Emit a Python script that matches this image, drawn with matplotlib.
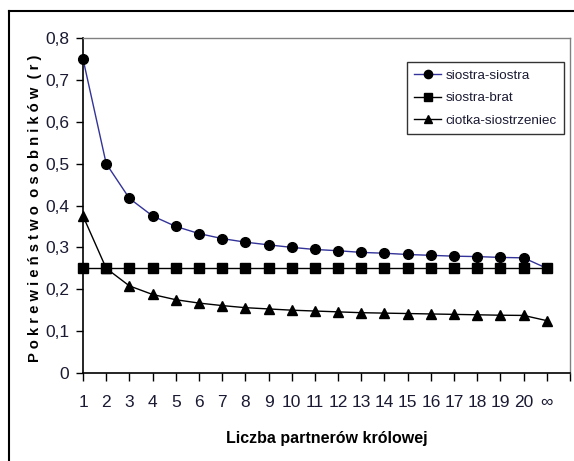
import matplotlib
matplotlib.use("Agg")
import matplotlib.pyplot as plt
from matplotlib import font_manager
from matplotlib.lines import Line2D

names = {f.name for f in font_manager.fontManager.ttflist}
narrow = 'Liberation Sans Narrow' if 'Liberation Sans Narrow' in names else 'Liberation Sans'
is_narrow = narrow == 'Liberation Sans Narrow'

categories = ['1', '2', '3', '4', '5', '6', '7', '8', '9', '10', '11', '12', '13',
              '14', '15', '16', '17', '18', '19', '20', '∞']
siostra_siostra = [0.75, 0.50, 0.417, 0.375, 0.35, 0.333, 0.321, 0.3125, 0.306, 0.30,
                   0.295, 0.292, 0.288, 0.286, 0.283, 0.281, 0.279, 0.278, 0.276, 0.275, 0.25]
siostra_brat = [0.25] * 21
ciotka_siostrzeniec = [0.375, 0.25, 0.208, 0.1875, 0.175, 0.167, 0.161, 0.156, 0.153, 0.15,
                       0.148, 0.146, 0.144, 0.143, 0.142, 0.141, 0.140, 0.139, 0.138, 0.1375, 0.125]
y_ticks = [0, 0.1, 0.2, 0.3, 0.4, 0.5, 0.6, 0.7, 0.8]
y_tick_labels = ['0', '0,1', '0,2', '0,3', '0,4', '0,5', '0,6', '0,7', '0,8']
series_names = ['siostra-siostra', 'siostra-brat', 'ciotka-siostrzeniec']

W, H = 574, 461
fig = plt.figure(figsize=(W / 100, H / 100), dpi=100)
ax = fig.add_axes([83 / W, 1 - 373 / H, (570 - 83) / W, (373 - 38) / H])

x = list(range(len(categories)))
navy = '#333399'
ax.plot(x, siostra_siostra, color=navy, lw=1, marker='o', ms=7,
        mfc='black', mec='black', label=series_names[0], clip_on=False, zorder=3)
ax.plot(x, siostra_brat, color='black', lw=1, marker='s', ms=6.5,
        mfc='black', mec='black', label=series_names[1], clip_on=False, zorder=3)
ax.plot(x, ciotka_siostrzeniec, color='black', lw=1, marker='^', ms=7.5,
        mfc='black', mec='black', label=series_names[2], clip_on=False, zorder=3)

ax.set_xlim(0, len(categories))
ax.set_ylim(0, 0.8)
ax.set_xticks(range(len(categories) + 1))
ax.set_xticklabels(categories + [''])
ax.set_yticks(y_ticks)
ax.set_yticklabels(y_tick_labels)

tick_size = 13.5 if is_narrow else 12.5
for lab in ax.get_xticklabels() + ax.get_yticklabels():
    lab.set_fontfamily(narrow)
    lab.set_fontsize(tick_size)
ax.tick_params(axis='x', direction='out', length=6, width=1, pad=10, colors='black',
               labelcolor='#1a1a33')
ax.tick_params(axis='y', direction='out', length=5, width=1, pad=5, colors='black',
               labelcolor='#1a1a33')

ax.spines['left'].set_color('black')
ax.spines['bottom'].set_color('black')
ax.spines['left'].set_linewidth(1.2)
ax.spines['bottom'].set_linewidth(1.2)
ax.spines['top'].set_color('#808080')
ax.spines['right'].set_color('#808080')
ax.spines['top'].set_linewidth(1)
ax.spines['right'].set_linewidth(1)

ylabel = '  '.join(' '.join(w) for w in 'Pokrewieństwo osobników (r)'.split(' '))
fig.text(35 / W, 1 - 208 / H, ylabel, rotation=90, ha='center', va='center',
         fontsize=10.6, fontweight='bold', family='Liberation Sans', color='black')
fig.text(327 / W, 1 - 438 / H, 'Liczba partnerów królowej', ha='center', va='center',
         fontsize=13 if is_narrow else 11.5, fontweight='bold', family=narrow,
         color='black')

leg = ax.legend(loc='upper left', bbox_to_anchor=(407 / W, 1 - 62 / H),
                bbox_transform=fig.transFigure, frameon=True, fancybox=False,
                shadow=False, borderpad=0.55, labelspacing=0.75, handlelength=2.0,
                handletextpad=0.3, borderaxespad=0, markerscale=0.85,
                prop={'family': narrow, 'size': 11.5 if is_narrow else 9.7})
leg.get_frame().set_edgecolor('black')
leg.get_frame().set_linewidth(1)
for t in leg.get_texts():
    t.set_color('#1a1a33')

# outer chart frame
fig.add_artist(Line2D([9 / W, 9 / W], [0, 1 - 11 / H], color='black', lw=1.5,
                      transform=fig.transFigure))
fig.add_artist(Line2D([9 / W, 1], [1 - 11 / H, 1 - 11 / H], color='black', lw=1.5,
                      transform=fig.transFigure))

fig.savefig('out.png', dpi=100)
